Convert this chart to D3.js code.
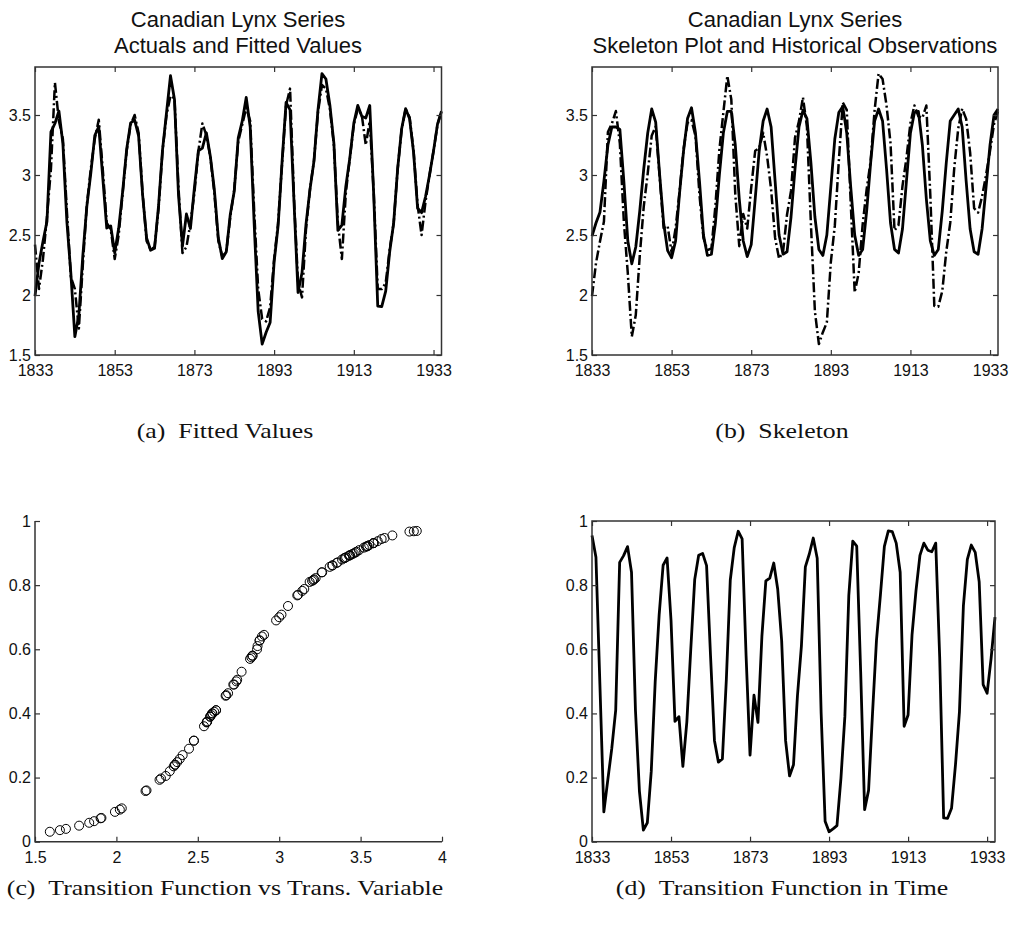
<!DOCTYPE html>
<html>
  <head>
    <style>
      body { margin: 0; background: #fff; }
      .tick text { font: 16px "Liberation Sans", Arial, sans-serif; fill: #111; }
      .tick line { stroke: #333; stroke-width: 1.2; }
      .domain { display: none; }
      .title { font: 22px "Liberation Sans", Arial, sans-serif; fill: #111; text-anchor: middle; }
      .caption { font: 20px "Liberation Serif", serif; fill: #111; text-anchor: middle; }
      .frame { fill: none; stroke: #333; stroke-width: 1.5; }
    </style>
  </head>
  <body>
    <svg id="fig" width="1012" height="932"></svg>

    <script src="https://d3js.org/d3.v7.min.js"></script>
    <script type="text/javascript">
      // years on the time axis
      const years = d3.range(1833, 1936);
      const yearTicks = [1833, 1853, 1873, 1893, 1913, 1933];
      const levelTicks = [1.5, 2, 2.5, 3, 3.5];
      const probTicks = [0, 0.2, 0.4, 0.6, 0.8, 1];
      const transTicks = [1.5, 2, 2.5, 3, 3.5, 4];

      // log10 lynx trappings (historical observations)
      const observed = [1.991,2.265,2.446,2.612,3.359,3.429,3.533,3.261,2.612,2.179,
        1.653,1.833,2.328,2.737,3.014,3.328,3.404,2.981,2.558,2.576,
        2.352,2.556,2.864,3.214,3.435,3.458,3.326,2.835,2.476,2.373,
        2.389,2.742,3.210,3.520,3.827,3.629,2.837,2.407,2.675,2.554,
        2.894,3.202,3.224,3.352,3.154,2.879,2.476,2.303,2.360,2.671,
        2.867,3.310,3.449,3.647,3.400,2.590,1.863,1.591,1.690,1.771,
        2.274,2.576,3.111,3.605,3.543,2.769,2.021,2.185,2.588,2.880,
        3.116,3.540,3.845,3.800,3.579,3.264,2.538,2.582,2.907,3.142,
        3.433,3.580,3.490,3.475,3.579,2.829,1.908,1.903,2.033,2.360,
        2.601,3.054,3.386,3.553,3.468,3.187,2.723,2.686,2.821,3.000,
        3.201,3.424,3.531];

      // fitted values
      const fitted = [2.42,2.05,2.30,2.65,3.05,3.77,3.45,3.30,2.70,2.15,
        2.05,1.72,2.25,2.75,3.05,3.30,3.46,3.05,2.60,2.55,
        2.30,2.50,2.85,3.20,3.42,3.50,3.35,2.85,2.45,2.38,
        2.40,2.72,3.20,3.50,3.66,3.64,2.90,2.35,2.40,2.60,
        2.85,3.20,3.43,3.33,3.15,2.85,2.45,2.32,2.36,2.65,
        2.88,3.28,3.42,3.56,3.45,2.70,2.05,1.80,1.78,1.90,
        2.30,2.60,3.10,3.58,3.72,2.80,2.10,1.98,2.55,2.88,
        3.12,3.52,3.75,3.72,3.55,3.25,2.60,2.30,2.85,3.14,
        3.42,3.55,3.50,3.25,3.45,2.85,2.05,2.05,2.10,2.38,
        2.60,3.05,3.38,3.55,3.48,3.20,2.75,2.50,2.78,3.00,
        3.20,3.42,3.53];

      // skeleton of the model
      const skeleton = [2.49,2.60,2.69,2.95,3.25,3.40,3.40,3.38,2.95,2.45,
        2.26,2.40,2.70,3.05,3.35,3.55,3.44,3.00,2.60,2.37,
        2.31,2.45,2.85,3.20,3.47,3.56,3.35,2.95,2.50,2.33,
        2.34,2.60,3.00,3.35,3.53,3.53,3.25,2.80,2.45,2.32,
        2.42,2.80,3.20,3.45,3.55,3.40,2.95,2.50,2.34,2.36,
        2.65,3.05,3.40,3.54,3.47,3.10,2.65,2.38,2.33,2.50,
        2.90,3.30,3.52,3.57,3.35,2.90,2.50,2.33,2.38,2.70,
        3.10,3.45,3.55,3.45,3.05,2.60,2.38,2.35,2.55,2.95,
        3.35,3.52,3.53,3.25,2.80,2.45,2.33,2.38,2.70,3.10,
        3.45,3.50,3.55,3.40,2.95,2.55,2.36,2.34,2.55,2.90,
        3.25,3.50,3.55];

      // transition variable (lagged observations)
      const transVariable = [3.695,3.411,2.718,1.991,2.265,2.446,2.612,3.359,3.429,3.533,
        3.261,2.612,2.179,1.653,1.833,2.328,2.737,3.014,3.328,3.404,
        2.981,2.558,2.576,2.352,2.556,2.864,3.214,3.435,3.458,3.326,
        2.835,2.476,2.373,2.389,2.742,3.210,3.520,3.827,3.629,2.837,
        2.407,2.675,2.554,2.894,3.202,3.224,3.352,3.154,2.879,2.476,
        2.303,2.360,2.671,2.867,3.310,3.449,3.647,3.400,2.590,1.863,
        1.591,1.690,1.771,2.274,2.576,3.111,3.605,3.543,2.769,2.021,
        2.185,2.588,2.880,3.116,3.540,3.845,3.800,3.579,3.264,2.538,
        2.582,2.907,3.142,3.433,3.580,3.490,3.475,3.579,2.829,1.908,
        1.903,2.033,2.360,2.601,3.054,3.386,3.553,3.468,3.187,2.723,
        2.686,2.821,3.000];

      // transition function value in each year
      const transFunction = [0.955,0.887,0.49,0.093,0.193,0.29,0.41,0.871,0.892,0.92,
        0.84,0.41,0.158,0.036,0.059,0.22,0.50,0.708,0.862,0.885,
        0.69,0.375,0.39,0.235,0.373,0.60,0.818,0.893,0.899,0.861,
        0.58,0.315,0.248,0.258,0.505,0.816,0.917,0.968,0.944,0.58,
        0.27,0.457,0.372,0.64,0.813,0.822,0.869,0.788,0.627,0.315,
        0.205,0.24,0.455,0.61,0.857,0.897,0.947,0.884,0.40,0.064,
        0.031,0.04,0.05,0.197,0.39,0.768,0.937,0.922,0.53,0.10,
        0.16,0.40,0.628,0.77,0.921,0.969,0.967,0.931,0.84,0.36,
        0.395,0.645,0.782,0.893,0.931,0.909,0.904,0.931,0.575,0.074,
        0.073,0.104,0.24,0.405,0.735,0.88,0.925,0.902,0.81,0.49,
        0.463,0.57,0.70];

      const svg = d3.select('#fig');
      const fmt = d => String(d);

      function axes(g, x, y, xt, yt, box) {
        const [x0, x1] = x.range();
        const [y1, y0] = y.range();
        g.append('g').attr('transform', 'translate(0,' + y1 + ')')
          .call(d3.axisBottom(x).tickValues(xt).tickFormat(fmt).tickSizeInner(-5).tickSizeOuter(0).tickPadding(10));
        g.append('g').attr('transform', 'translate(' + x0 + ',0)')
          .call(d3.axisLeft(y).tickValues(yt).tickFormat(fmt).tickSizeInner(-5).tickSizeOuter(0).tickPadding(4));
        if (box) {
          g.append('g').attr('transform', 'translate(0,' + y0 + ')')
            .call(d3.axisTop(x).tickValues(xt).tickFormat('').tickSizeInner(-5).tickSizeOuter(0));
          g.append('g').attr('transform', 'translate(' + x1 + ',0)')
            .call(d3.axisRight(y).tickValues(yt).tickFormat('').tickSizeInner(-5).tickSizeOuter(0));
          g.append('rect').attr('class', 'frame')
            .attr('x', x0).attr('y', y0).attr('width', x1 - x0).attr('height', y1 - y0);
        } else {
          g.append('path').attr('class', 'frame')
            .attr('d', 'M' + x0 + ',' + y0 + 'V' + y1 + 'H' + x1);
        }
      }

      function series(g, x, y, vals, dashed) {
        const line = d3.line().x((d, i) => x(years[i])).y(d => y(d));
        g.append('path').datum(vals)
          .attr('fill', 'none').attr('stroke', '#000')
          .attr('stroke-width', dashed ? 2.5 : 2.8)
          .attr('stroke-linejoin', 'round')
          .attr('stroke-dasharray', dashed ? '10,3,2,3' : null)
          .attr('d', line);
      }

      function title(cx, lines) {
        lines.forEach((t, i) => {
          svg.append('text').attr('class', 'title')
            .attr('x', cx).attr('y', 27 + i * 26).text(t);
        });
      }

      function caption(cx, cy, label, text) {
        svg.append('text').attr('class', 'caption')
          .attr('transform', 'translate(' + cx + ',' + cy + ') scale(1.29,1)')
          .text(label + '\u00a0\u00a0' + text);
      }

      // (a) actuals and fitted
      const xa = d3.scaleLinear().domain([1833, 1935]).range([35, 441.5]);
      const ya = d3.scaleLinear().domain([1.5, 3.9]).range([355, 67]);
      const ga = svg.append('g');
      series(ga, xa, ya, fitted, true);
      series(ga, xa, ya, observed, false);
      axes(ga, xa, ya, yearTicks, levelTicks, true);
      title(238, ['Canadian Lynx Series', 'Actuals and Fitted Values']);

      // (b) skeleton
      const xb = d3.scaleLinear().domain([1833, 1935]).range([592, 998]);
      const yb = d3.scaleLinear().domain([1.5, 3.9]).range([355, 67]);
      const gb = svg.append('g');
      series(gb, xb, yb, observed, true);
      series(gb, xb, yb, skeleton, false);
      axes(gb, xb, yb, yearTicks, levelTicks, true);
      title(795, ['Canadian Lynx Series', 'Skeleton Plot and Historical Observations']);

      // (c) transition function vs transition variable
      const xc = d3.scaleLinear().domain([1.5, 4]).range([35, 442]);
      const yc = d3.scaleLinear().domain([0, 1]).range([841.7, 521]);
      const gc = svg.append('g');
      axes(gc, xc, yc, transTicks, probTicks, false);
      gc.selectAll('circle').data(transVariable).enter().append('circle')
        .attr('cx', d => xc(d))
        .attr('cy', (d, i) => yc(transFunction[i]))
        .attr('r', 4.5)
        .attr('fill', 'none').attr('stroke', '#000').attr('stroke-width', 1);

      // (d) transition function in time
      const xd = d3.scaleLinear().domain([1833, 1935]).range([592, 995]);
      const yd = d3.scaleLinear().domain([0, 1]).range([841.7, 521]);
      const gd = svg.append('g');
      series(gd, xd, yd, transFunction, false);
      axes(gd, xd, yd, yearTicks, probTicks, true);

      caption(225, 438, '(a)', 'Fitted Values');
      caption(782, 438, '(b)', 'Skeleton');
      caption(225, 895, '(c)', 'Transition Function vs Trans. Variable');
      caption(782, 895, '(d)', 'Transition Function in Time');
    </script>
  </body>
</html>
